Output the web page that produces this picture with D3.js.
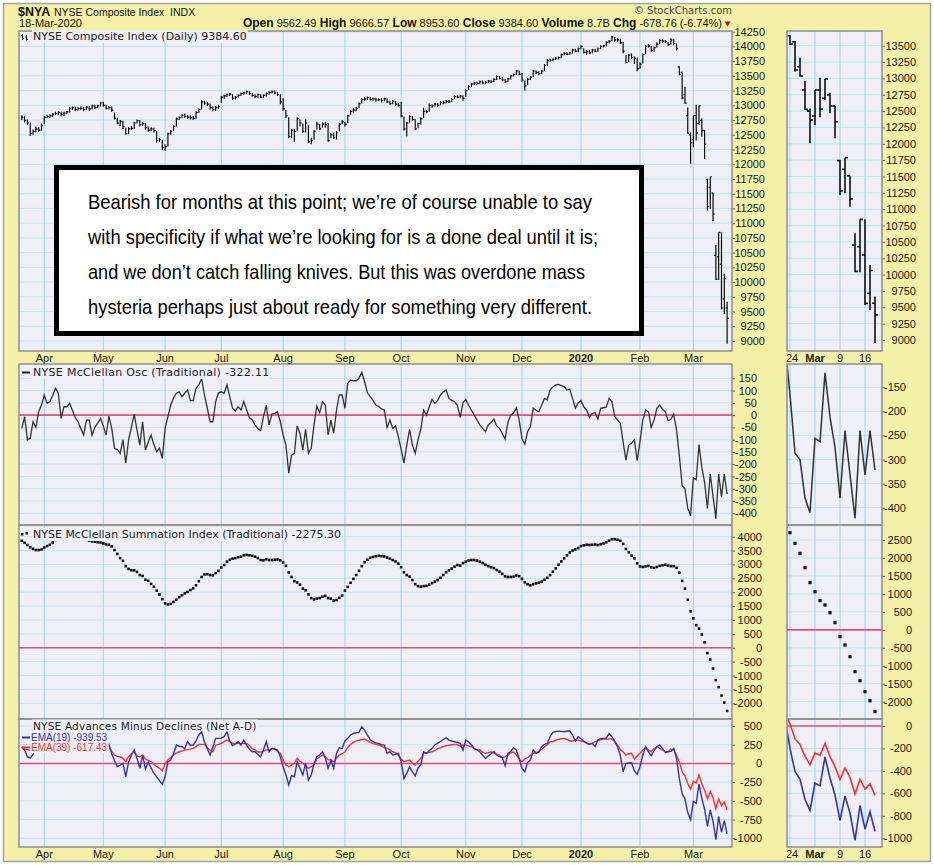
<!DOCTYPE html>
<html><head><meta charset="utf-8">
<script src="https://cdn.jsdelivr.net/npm/d3@7/dist/d3.min.js"></script>
<style>html,body{margin:0;padding:0;background:#fff;} svg{display:block;}</style>
</head><body>
<svg id="chart" width="934" height="865" xmlns="http://www.w3.org/2000/svg"></svg>
<script>
// ================= DATA =================
const firstDate = "2019-03-20", lastDate = "2020-03-18";
const marketHolidays = ["2019-04-19","2019-05-27","2019-07-04","2019-09-02","2019-11-28","2019-12-25","2020-01-01","2020-01-20","2020-02-17"];
const zoomFirstDate = "2020-02-24";
const zoomTickDates = ["2020-02-24","2020-03-02","2020-03-09","2020-03-16"];
const zoomTickLabels = ["24","Mar","9","16"];
const zoomTickBold = [false,true,false,false];

const priceClose = [
12800,12740,12700,12520,12560,12600,12580,12660,12800,12810,
12820,12850,12860,12880,12840,12870,12890,12950,12960,12930,
12945,12950,12930,12970,12940,12990,12960,12990,13040,13000,
12950,12960,12920,12780,12700,12730,12640,12520,12600,12610,
12700,12740,12670,12690,12620,12580,12600,12570,12400,12420,
12280,12300,12520,12560,12640,12770,12790,12830,12810,12800,
12790,12780,12880,12930,13060,13040,13020,12960,12930,12960,
12980,13140,13160,13180,13190,13120,13140,13170,13200,13210,
13230,13200,13170,13150,13180,13140,13170,13200,13220,13230,
13210,13180,13060,12940,12820,12470,12580,12560,12780,12700,
12560,12700,12380,12400,12560,12680,12600,12680,12670,12400,
12500,12450,12540,12680,12720,12680,12820,12900,12920,12950,
13030,13100,13110,13130,13100,13110,13090,13100,13080,13110,
13060,13030,13070,13020,13000,12820,12600,12700,12810,12760,
12600,12690,12770,12900,12890,13000,12990,13020,13000,13050,
13040,13070,13060,13100,13150,13140,13160,13120,13250,13320,
13360,13380,13370,13400,13380,13390,13410,13400,13440,13490,
13460,13430,13400,13450,13500,13520,13580,13530,13430,13330,
13440,13480,13580,13560,13540,13580,13680,13760,13770,13780,
13800,13810,13860,13880,13870,13890,13940,13920,13960,14000,
13900,13920,13890,13940,13920,13960,14000,14010,14070,14090,
14160,14110,14110,14060,13920,13730,13850,13810,13800,13620,
13700,13860,14000,14010,13930,13980,14040,14100,14090,14080,
14030,14110,14050,13960,13526,13128,13037,12527,12364,12823,
12532,12991,12578,12338,11278,11788,11156,10050,10845,9560,
10063.36,9384.60];
const priceHigh = [
12830,12820,12760,12710,12590,12640,12630,12690,12820,12840,
12850,12870,12890,12900,12890,12890,12910,12970,12980,12980,
12970,12980,12970,12990,12990,13010,13010,13010,13060,13060,
13010,12990,12980,12880,12790,12750,12740,12620,12630,12650,
12720,12760,12750,12720,12700,12640,12630,12620,12560,12450,
12410,12340,12540,12580,12660,12790,12810,12850,12860,12840,
12830,12820,12900,12950,13090,13080,13060,13030,12980,12990,
13010,13160,13180,13200,13210,13190,13160,13190,13220,13230,
13250,13240,13210,13190,13200,13190,13190,13220,13240,13250,
13250,13230,13190,13120,12920,12800,12600,12600,12800,12760,
12690,12760,12660,12450,12580,12720,12680,12710,12720,12700,
12530,12540,12560,12700,12750,12720,12840,12920,12950,12970,
13050,13120,13140,13150,13140,13130,13130,13120,13120,13130,
13120,13080,13090,13080,13040,13060,12810,12720,12830,12820,
12770,12710,12800,12960,12920,13030,13020,13040,13040,13070,
13080,13090,13090,13120,13170,13170,13180,13170,13270,13340,
13380,13400,13400,13420,13420,13410,13430,13430,13460,13510,
13500,13480,13450,13470,13520,13540,13600,13590,13550,13420,
13460,13500,13600,13590,13580,13600,13700,13790,13790,13800,
13820,13830,13880,13900,13900,13910,13960,13960,13980,14020,
13970,13940,13940,13960,13960,13980,14020,14030,14090,14110,
14180,14160,14140,14130,14080,13850,13870,13880,13830,13810,
13730,13880,14020,14040,14010,14000,14070,14120,14120,14110,
14080,14140,14120,14050,13664,13572,13316,12965,12540,12823,
13011,12991,12781,12578,11752,11788,11512,10631,10845,10845,
10147,9666.57];
const priceLow = [
12750,12710,12670,12480,12500,12540,12550,12570,12680,12780,
12790,12800,12830,12840,12810,12820,12850,12880,12920,12900,
12910,12920,12900,12920,12910,12930,12940,12950,12980,12980,
12930,12930,12890,12760,12680,12650,12600,12500,12510,12580,
12600,12690,12640,12650,12590,12550,12560,12540,12370,12380,
12240,12230,12300,12500,12560,12640,12750,12780,12790,12770,
12760,12750,12770,12870,12930,13010,12990,12930,12900,12910,
12940,13040,13110,13140,13160,13090,13100,13130,13160,13180,
13190,13180,13150,13120,13130,13120,13130,13150,13180,13200,
13190,13160,13020,12910,12790,12440,12440,12380,12570,12640,
12530,12540,12360,12340,12420,12590,12580,12620,12620,12380,
12440,12430,12420,12560,12680,12640,12700,12840,12880,12900,
12950,13030,13080,13090,13080,13080,13060,13070,13050,13070,
13040,13010,13020,12990,12980,12800,12570,12470,12700,12740,
12580,12610,12670,12790,12860,12890,12960,12980,12970,13000,
13020,13030,13040,13060,13110,13120,13120,13080,13140,13260,
13310,13340,13350,13360,13360,13360,13380,13380,13390,13430,
13440,13410,13380,13390,13440,13490,13510,13510,13400,13250,
13340,13430,13480,13530,13510,13530,13580,13670,13740,13750,
13770,13780,13800,13850,13850,13860,13880,13900,13900,13950,
13880,13860,13870,13880,13900,13910,13950,13980,14000,14050,
14090,14080,14080,14040,13880,13710,13730,13790,13700,13580,
13620,13710,13870,13980,13910,13910,13980,14040,14060,14060,
14010,14030,14020,13930,13511,13103,13026,12517,12007,12287,
12405,12670,12466,12084,11217,11243,11038,10035,10035,9535,
9459,8953.60];
// opens for the zoomed period (Feb 24 - Mar 18, 2020)
const recentOpen = [13653,13561,13179,12823,12500,12425,12823,12695,12746,12578,11742,11610,11512,10453,10427,10300,9714,9562.49];

const mcclellanOsc = [
-54,-6,-101,-95,-27,-50,14,41,82,48,
55,80,109,89,-13,34,34,48,20,-10,
-27,-54,-81,-20,-20,-81,-50,-33,-13,-44,
-81,-4,-54,-135,-140,-156,-101,-196,-101,-50,
4,-60,-122,-27,-142,-110,-81,-120,-149,-135,
-176,-54,-6,41,70,89,95,75,90,102,
59,59,109,123,150,82,30,-27,-27,55,
91,95,89,123,75,28,17,34,21,55,
21,-10,-20,-40,-55,-63,-6,41,-40,4,
7,14,-27,-81,-122,-237,-163,-156,-44,-74,
-142,-58,-156,-135,-40,37,10,55,41,-81,
-20,-74,20,82,82,28,130,143,140,140,
150,174,136,91,75,60,41,35,25,21,
-50,-20,-54,-44,-88,-140,-196,-122,-58,-120,
-156,-100,-58,21,0,34,64,48,60,82,
95,102,68,60,55,40,-9,50,64,40,
20,0,-20,-40,-54,-67,-40,-30,-16,-44,
-54,-75,-97,-30,0,7,30,-20,-95,-118,
-67,-47,28,20,14,40,68,62,102,115,
123,125,120,116,102,106,68,28,50,59,
34,21,-9,7,10,-16,28,30,32,68,
55,-4,-20,-33,-110,-183,-122,-115,-101,-186,
-108,-20,21,14,-50,-20,28,41,24,14,
-23,-17,4,-61,-165,-287,-300,-380,-410,-256,
-263,-120,-212,-274,-380,-240,-331,-422,-240,-332,
-240,-322.11];

const summationIndex = [
3850,3780,3700,3620,3560,3520,3520,3540,3610,3665,
3710,3790,3880,3950,3970,3990,4010,4040,4060,4050,
4020,3970,3920,3890,3860,3830,3820,3800,3790,3760,
3720,3710,3650,3520,3380,3230,3130,2940,2840,2790,
2790,2730,2620,2590,2450,2410,2300,2200,2060,1920,
1750,1600,1560,1580,1650,1730,1820,1890,1960,2010,
2080,2140,2250,2400,2550,2640,2650,2620,2610,2690,
2770,2890,2980,3100,3170,3210,3230,3260,3280,3330,
3345,3330,3310,3280,3230,3160,3150,3190,3160,3160,
3170,3180,3150,3070,2950,2710,2550,2400,2350,2270,
2130,2070,1920,1790,1740,1770,1790,1840,1870,1790,
1770,1700,1720,1800,1880,2060,2190,2340,2480,2620,
2770,2940,3080,3170,3240,3270,3300,3310,3300,3290,
3250,3210,3160,3110,3030,2900,2720,2620,2560,2440,
2290,2220,2200,2220,2230,2270,2330,2380,2440,2520,
2620,2720,2790,2850,2920,2980,2960,3050,3100,3140,
3160,3160,3140,3100,3050,2990,2940,2900,2870,2800,
2740,2660,2570,2550,2550,2560,2600,2580,2480,2360,
2290,2250,2290,2320,2340,2380,2450,2520,2620,2740,
2860,2990,3110,3220,3330,3430,3500,3540,3590,3660,
3690,3710,3700,3710,3720,3700,3730,3760,3800,3860,
3910,3910,3890,3850,3740,3560,3440,3320,3220,3040,
2930,2910,2930,2950,2900,2880,2910,2950,2970,2990,
2960,2940,2940,2880,2703,2408,2130,1729,1312,1061,
811,691,477,199,-191,-422,-748,-1165,-1416,-1722,
-1973,-2275.30];

const adEma19 = [
220,180,90,70,125,200,240,260,270,250,
260,280,300,290,230,240,250,260,240,210,
190,170,150,170,180,150,160,180,190,201,
223,255,130,40,-44,-21,1,-178,20,110,
179,68,-65,112,-75,20,-60,-130,-180,-230,
-279,-178,23,45,130,246,230,223,201,290,
240,246,300,380,423,290,201,112,220,335,
335,340,357,423,300,236,260,290,246,312,
246,190,156,156,120,89,179,290,156,201,
190,179,90,-44,-150,-288,-164,-178,23,-65,
-155,1,-222,-155,0,90,112,156,76,-65,
45,-65,135,210,201,300,335,379,401,410,
415,490,446,379,320,290,275,268,250,246,
135,156,112,120,135,23,-199,-132,-44,-110,
-168,-60,-21,156,135,170,201,246,270,290,
320,343,312,300,290,280,268,179,312,290,
250,201,180,156,110,68,100,130,156,112,
90,76,-31,135,156,210,180,68,-65,-111,
14,45,179,135,156,220,255,268,357,415,
425,432,428,423,430,437,379,299,357,330,
299,270,255,268,223,312,330,335,335,401,
357,299,223,112,-111,1,5,9,-100,-146,
-44,112,223,156,103,170,223,246,201,148,
156,160,201,68,-200,-405,-475,-655,-752,-508,
-533,-276,-463,-615,-841,-622,-775,-1019,-708,-919,
-763,-939.53];

const adEma39 = [
200,195,185,175,175,180,190,200,210,215,
220,225,235,240,235,235,240,240,240,235,
230,225,215,210,210,200,200,205,210,240,
246,225,160,112,95,89,70,23,89,130,
156,100,89,112,59,40,23,-10,-40,-65,
-101,1,45,80,112,140,156,165,179,185,
195,201,225,255,255,255,210,179,156,246,
255,268,290,312,290,268,268,268,268,268,
268,240,201,180,156,150,165,179,185,195,
201,160,135,45,-20,-44,-20,1,68,30,
1,-30,-65,-40,-21,60,89,112,90,50,
45,23,70,112,130,156,210,255,280,299,
310,320,326,300,282,265,255,246,230,210,
201,180,156,140,112,60,23,35,45,0,
-21,30,68,135,140,150,156,170,201,210,
225,236,245,250,255,250,230,246,246,235,
223,200,179,179,150,135,145,156,140,121,
110,76,90,112,140,156,112,60,23,60,
76,110,135,145,156,190,223,250,290,290,
310,322,330,335,320,299,299,312,312,300,
290,270,255,270,290,300,320,326,326,326,
326,290,246,180,156,112,130,135,59,100,
135,180,210,180,156,200,223,200,179,165,
156,192,180,110,20,-115,-165,-270,-345,-240,
-262,-155,-273,-362,-475,-374,-458,-605,-475,-562,
-513,-617.43];

const priceTicksMain = [9000,9250,9500,9750,10000,10250,10500,10750,11000,11250,11500,11750,12000,12250,12500,12750,13000,13250,13500,13750,14000,14250];
const priceTicksZoom = [9000,9250,9500,9750,10000,10250,10500,10750,11000,11250,11500,11750,12000,12250,12500,12750,13000,13250,13500];
const oscTicksMain = [150,100,50,0,-50,-100,-150,-200,-250,-300,-350,-400];
const oscTicksZoom = [-150,-200,-250,-300,-350,-400];
const sumTicksMain = [4000,3500,3000,2500,2000,1500,1000,500,0,-500,-1000,-1500,-2000];
const sumTicksZoom = [2500,2000,1500,1000,500,0,-500,-1000,-1500,-2000];
const adTicksMain = [500,250,0,-250,-500,-750,-1000];
const adTicksZoom = [0,-200,-400,-600,-800,-1000];

const headerFields = [["Open","9562.49"],["High","9666.57"],["Low","8953.60"],["Close","9384.60"],["Volume","8.7B"],["Chg","-678.76 (-6.74%)"]];
const noteLines = [
"Bearish for months at this point; we\u2019re of  course unable to say",
"with specificity if what we\u2019re looking for is a done deal until it is;",
"and we don\u2019t catch falling knives. But this was overdone mass",
"hysteria perhaps just about ready for something very different."];

// ================= DRAWING =================
const svg = d3.select("#chart");
const YEL = "#f3f1a8", PBG = "#efeff7", HGRID = "#c2e4f1", VGRID = "#9fd4ea", BORDER = "#8e8e8e";
const AXFONT = "11px 'Liberation Sans', Arial, sans-serif";
const TFONT = "11px 'DejaVu Sans', Verdana, sans-serif";
const LFONT = "10px 'Liberation Sans', Arial, sans-serif";
const defs = svg.append("defs");

svg.append("rect").attr("x",3.5).attr("y",3.5).attr("width",927).attr("height",858)
  .attr("fill",YEL).attr("stroke","#a3a3a3").attr("stroke-width",1.5);

// trading days
const parse = d3.timeParse("%Y-%m-%d"), iso = d3.timeFormat("%Y-%m-%d");
const days = d3.timeDay.range(parse(firstDate), d3.timeDay.offset(parse(lastDate),1))
  .filter(d => d.getDay()!==0 && d.getDay()!==6 && !marketHolidays.includes(iso(d)));
const n = days.length;
const idx = d3.range(n);
const monthStarts = idx.filter(i => i>0 && days[i].getMonth()!==days[i-1].getMonth());
const zi = days.findIndex(d => iso(d)===zoomFirstDate);
const zoomIdx = idx.filter(i => i>=zi-1);
const zoomTickIdx = zoomTickDates.map(s => days.findIndex(d => iso(d)===s));

const colL = {x0:19, x1:732}, colR = {x0:787, x1:882};
const xL = d3.scaleLinear().domain([0, n-1]).range([21.8, 727.1]);
const xR = d3.scaleLinear().domain([zi, n-1]).range([790, 875]);

const P = {
  price:{y0:31,y1:351}, osc:{y0:364,y1:525}, sum:{y0:525,y1:719}, ad:{y0:719,y1:847}
};
const yPL = d3.scaleLinear().domain([9000,14250]).range([341,31.7]);
const yPR = d3.scaleLinear().domain([9000,13500]).range([340,45.7]);
const yOL = d3.scaleLinear().domain([-400,150]).range([513.3,378.3]);
const yOR = d3.scaleLinear().domain([-400,-150]).range([507.7,387.3]);
const ySL = d3.scaleLinear().domain([-2000,4000]).range([703.3,536.7]);
const ySR = d3.scaleLinear().domain([-2000,2500]).range([701.7,540]);
const yAL = d3.scaleLinear().domain([-1000,500]).range([838.3,726]);
const yAR = d3.scaleLinear().domain([-1000,0]).range([838.3,726]);

function panel(id, col, p, y, ticks, labelX, vIdx, x) {
  defs.append("clipPath").attr("id", id).append("rect")
    .attr("x", col.x0).attr("y", p.y0).attr("width", col.x1-col.x0).attr("height", p.y1-p.y0);
  svg.append("rect").attr("x", col.x0).attr("y", p.y0).attr("width", col.x1-col.x0).attr("height", p.y1-p.y0).attr("fill", PBG);
  const g = svg.append("g").attr("clip-path", `url(#${id})`);
  g.selectAll("line.hg").data(ticks).join("line").attr("class","hg")
    .attr("x1", col.x0).attr("x2", col.x1).attr("y1", d=>y(d)).attr("y2", d=>y(d))
    .attr("stroke", HGRID).attr("stroke-width", 1);
  g.selectAll("line.vg").data(vIdx).join("line").attr("class","vg")
    .attr("x1", d=>x(d)).attr("x2", d=>x(d)).attr("y1", p.y0).attr("y2", p.y1)
    .attr("stroke", VGRID).attr("stroke-width", 1);
  const ag = svg.append("g").attr("transform", `translate(${col.x1},0)`)
    .call(d3.axisRight(y).tickValues(ticks).tickSize(3).tickFormat(d => String(d)));
  ag.select(".domain").remove();
  ag.selectAll(".tick line").attr("stroke", "#666");
  ag.selectAll(".tick text").attr("x", labelX-col.x1).attr("text-anchor","end")
    .attr("fill","#1a1a1a").style("font", AXFONT);
  return g;
}
function border(col, p) {
  svg.append("rect").attr("x", col.x0).attr("y", p.y0).attr("width", col.x1-col.x0).attr("height", p.y1-p.y0)
    .attr("fill","none").attr("stroke", BORDER).attr("stroke-width", 1.5);
}
function zeroLine(g, col, y) {
  g.append("line").attr("x1", col.x0).attr("x2", col.x1).attr("y1", y(0)).attr("y2", y(0))
    .attr("stroke","#ee4a7c").attr("stroke-width",1.6);
}
function title(x, y, str, color, font, spacing) {
  const t = svg.append("text").attr("x", x).attr("y", y).attr("fill", color || "#222")
    .style("font", font || TFONT).style("letter-spacing", spacing || "0px").text(str);
  const bb = t.node().getBBox();
  svg.insert("rect", () => t.node()).attr("x", bb.x-1).attr("y", bb.y).attr("width", bb.width+2).attr("height", bb.height).attr("fill", PBG);
  return t;
}

// ---- price panels
const gPL = panel("cpl", colL, P.price, yPL, priceTicksMain, 765, monthStarts, xL);
const gPR = panel("cpr", colR, P.price, yPR, priceTicksZoom, 916, zoomTickIdx, xR);
gPL.append("path").attr("fill","none").attr("stroke","#000").attr("stroke-width",1.15)
  .attr("d", idx.map(i => {
    const x = xL(i);
    let s = `M${x},${yPL(priceHigh[i])}V${yPL(priceLow[i])}M${x},${yPL(priceClose[i])}h1.6`;
    if (i >= zi) s += `M${x-1.6},${yPL(recentOpen[i-zi])}h1.6`;
    return s;
  }).join(""));
gPR.append("path").attr("fill","none").attr("stroke","#111").attr("stroke-width",1.6)
  .attr("d", zoomIdx.map(i => {
    const x = xR(i);
    let s = `M${x},${yPR(priceHigh[i])}V${yPR(priceLow[i])}M${x},${yPR(priceClose[i])}h3`;
    if (i >= zi) s += `M${x-3},${yPR(recentOpen[i-zi])}h3`;
    return s;
  }).join(""));
border(colL, P.price); border(colR, P.price);

// ---- McClellan oscillator
const gOL = panel("col", colL, P.osc, yOL, oscTicksMain, 757, monthStarts, xL);
const gOR = panel("cor", colR, P.osc, yOR, oscTicksZoom, 906, zoomTickIdx, xR);
zeroLine(gOL, colL, yOL);
gOL.append("path").datum(idx).attr("fill","none").attr("stroke","#333").attr("stroke-width",1.3)
  .attr("d", d3.line().x(i=>xL(i)).y(i=>yOL(mcclellanOsc[i])));
gOR.append("path").datum(zoomIdx).attr("fill","none").attr("stroke","#333").attr("stroke-width",1.5)
  .attr("d", d3.line().x(i=>xR(i)).y(i=>yOR(mcclellanOsc[i])));

// ---- Summation index
const gSL = panel("csl", colL, P.sum, ySL, sumTicksMain, 762, monthStarts, xL);
const gSR = panel("csr", colR, P.sum, ySR, sumTicksZoom, 912, zoomTickIdx, xR);
zeroLine(gSL, colL, ySL); zeroLine(gSR, colR, ySR);
gSL.selectAll("rect.dot").data(idx).join("rect").attr("class","dot")
  .attr("x", i=>xL(i)-1.3).attr("y", i=>ySL(summationIndex[i])-1.3).attr("width",2.6).attr("height",2.6).attr("fill","#111");
gSR.selectAll("rect.dot").data(zoomIdx).join("rect").attr("class","dot")
  .attr("x", i=>xR(i)-1.6).attr("y", i=>ySR(summationIndex[i])-1.6).attr("width",3.2).attr("height",3.2).attr("fill","#111");

// ---- Net A-D EMAs
const gAL = panel("cal", colL, P.ad, yAL, adTicksMain, 762, monthStarts, xL);
const gAR = panel("car", colR, P.ad, yAR, adTicksZoom, 912, zoomTickIdx, xR);
zeroLine(gAL, colL, yAL); zeroLine(gAR, colR, yAR);
[[adEma39,"#ff3030"],[adEma19,"#3434a8"]].forEach(([s,c]) => {
  gAL.append("path").datum(idx).attr("fill","none").attr("stroke",c).attr("stroke-width",1.4)
    .attr("d", d3.line().x(i=>xL(i)).y(i=>yAL(s[i])));
  gAR.append("path").datum(zoomIdx).attr("fill","none").attr("stroke",c).attr("stroke-width",1.6)
    .attr("d", d3.line().x(i=>xR(i)).y(i=>yAR(s[i])));
});

border(colL, P.osc); border(colR, P.osc);
border(colL, P.sum); border(colR, P.sum);
border(colL, P.ad); border(colR, P.ad);

// ---- panel titles
title(33, 40, "NYSE Composite Index (Daily) 9384.60");
svg.append("path").attr("d","M22.5,34v6M21,35.5h1.5M22.5,38.5h1.5M26.5,35v5.5M25,37h1.5M26.5,39.5h1.5")
  .attr("stroke","#222").attr("stroke-width",1).attr("fill","none");
title(33, 376, "NYSE McClellan Osc (Traditional) -322.11", null, null, "0.3px");
svg.append("line").attr("x1",22).attr("x2",30).attr("y1",372.5).attr("y2",372.5).attr("stroke","#222").attr("stroke-width",2);
title(33, 538, "NYSE McClellan Summation Index (Traditional) -2275.30");
svg.append("rect").attr("x",21).attr("y",533).attr("width",2.5).attr("height",2.5).attr("fill","#222");
svg.append("rect").attr("x",25.5).attr("y",532).attr("width",2.5).attr("height",2.5).attr("fill","#222");
title(33, 729.5, "NYSE Advances Minus Declines (Net A-D)", null, "10.5px 'DejaVu Sans', Verdana, sans-serif", "0.2px");
title(31, 741, "EMA(19) -939.53", "#3434a8", LFONT);
title(31, 751, "EMA(39) -617.43", "#ff3030", LFONT);
svg.append("line").attr("x1",22).attr("x2",30).attr("y1",737.5).attr("y2",737.5).attr("stroke","#3434a8").attr("stroke-width",2);
svg.append("line").attr("x1",22).attr("x2",30).attr("y1",747.5).attr("y2",747.5).attr("stroke","#ff3030").attr("stroke-width",2);

// ---- date labels
const mFmt = d3.timeFormat("%b");
[362, 858].forEach(yb => {
  svg.selectAll(null).data(monthStarts).join("text")
    .attr("x", i=>xL(i)).attr("y", yb).attr("text-anchor","middle").attr("fill","#1a1a1a")
    .style("font", AXFONT).style("font-weight", i => days[i].getMonth()===0 ? "bold" : "normal")
    .text(i => days[i].getMonth()===0 ? String(days[i].getFullYear()) : mFmt(days[i]));
  svg.selectAll(null).data(zoomTickIdx).join("text")
    .attr("x", i=>xR(i)+(i===zi?2:0)).attr("y", yb).attr("text-anchor","middle").attr("fill","#1a1a1a")
    .style("font", AXFONT).style("font-weight", (d,k) => zoomTickBold[k] ? "bold" : "normal")
    .text((d,k) => zoomTickLabels[k]);
});

// ---- header
svg.append("text").attr("x",18).attr("y",15.5).style("font","bold 12.5px 'Liberation Sans', Arial, sans-serif").attr("fill","#111").text("$NYA");
const nm = svg.append("text").attr("x",54).attr("y",15.5).style("font","10.5px 'Liberation Sans', Arial, sans-serif").attr("fill","#111").text("NYSE Composite Index");
const nmEnd = nm.node().getBBox().x + nm.node().getBBox().width;
svg.append("text").attr("x",nmEnd+5).attr("y",15.5).style("font","10.5px 'Liberation Sans', Arial, sans-serif").attr("fill","#111").text("INDX");
svg.append("text").attr("x",19).attr("y",27).style("font","11px 'Liberation Sans', Arial, sans-serif").attr("fill","#111").text("18-Mar-2020");
const hdr = svg.append("text").attr("x",722).attr("y",27).attr("text-anchor","end").attr("fill","#111");
headerFields.forEach(([k,v], j) => {
  hdr.append("tspan").style("font","bold 12px 'Liberation Sans', Arial, sans-serif").text((j? " ":"") + k);
  hdr.append("tspan").style("font","11px 'Liberation Sans', Arial, sans-serif").text(" " + v);
});
svg.append("path").attr("d","M724.5,21.5h6l-3,5z").attr("fill","#b0103c");
svg.append("text").attr("x",732).attr("y",13.5).attr("text-anchor","end").attr("fill","#444")
  .style("font","10px 'DejaVu Sans', Verdana, sans-serif").text("\u00a9 StockCharts.com");

// ---- annotation box
svg.append("rect").attr("x",56.5).attr("y",167.5).attr("width",585).attr("height",166)
  .attr("fill","#fff").attr("stroke","#000").attr("stroke-width",5);
const noteWidths = [504, 510, 497, 504];
noteLines.forEach((s, k) => {
  svg.append("text").attr("x",88).attr("y",208.5 + k*35).attr("fill","#000")
    .style("font","21px 'Liberation Sans Narrow', 'Arial Narrow', 'Liberation Sans', sans-serif")
    .attr("textLength", noteWidths[k]).attr("lengthAdjust","spacingAndGlyphs").text(s);
});
</script>
</body></html>
